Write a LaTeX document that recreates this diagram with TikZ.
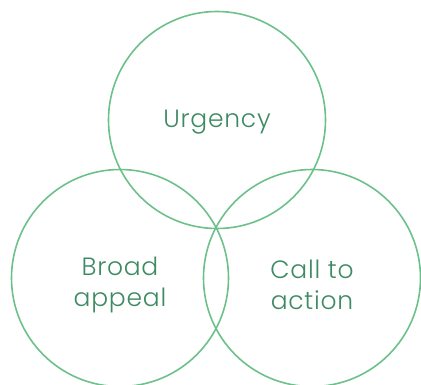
\documentclass[tikz,border=0pt]{standalone}
\usepackage{fontspec}
\setmainfont{Poppins Light}[LetterSpace=3]
\usetikzlibrary{positioning}
\definecolor{ringgreen}{HTML}{6CC08A}
\definecolor{textgreen}{HTML}{3D8A63}
\begin{document}
\begin{tikzpicture}[x=1pt,y=-1pt,
	ring/.style={draw=ringgreen,line width=1.6pt,circle,minimum size=217pt,inner sep=0pt},
	lbl/.style={text=textgreen,font=\fontsize{25}{31}\selectfont,align=center}]
	\useasboundingbox (0,0) rectangle (421,384);
	\node[ring] (top) at (217,120) {};
	\node[ring] (left) at (120,278) {};
	\node[ring] (right) at (312,278) {};
	\node[lbl] (urg) at ([yshift=-2pt]top.center) {Urgency};
	\node[lbl] (broad) at ([yshift=-7pt]left.center) {Broad\\appeal};
	\node[lbl] (call) at ([yshift=-7pt]right.center) {Call to\\action};
\end{tikzpicture}
\end{document}
